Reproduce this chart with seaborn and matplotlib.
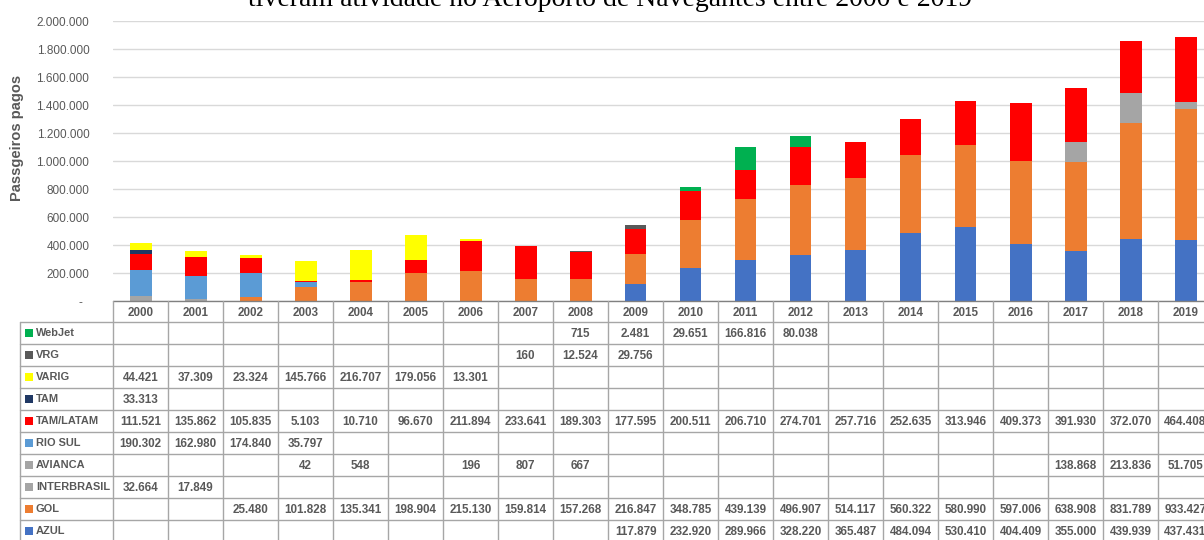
import matplotlib
matplotlib.use("Agg")
import matplotlib.pyplot as plt
import seaborn as sns
import pandas as pd
import numpy as np
from matplotlib.patches import Rectangle

# ---------------- data ----------------
years = [str(y) for y in range(2000, 2020)]
N = None
webjet = [N] * 8 + [715, 2481, 29651, 166816, 80038] + [N] * 7
vrg = [N] * 7 + [160, 12524, 29756] + [N] * 10
varig = [44421, 37309, 23324, 145766, 216707, 179056, 13301] + [N] * 13
tam = [33313] + [N] * 19
tam_latam = [111521, 135862, 105835, 5103, 10710, 96670, 211894, 233641, 189303, 177595,
             200511, 206710, 274701, 257716, 252635, 313946, 409373, 391930, 372070, 464408]
rio_sul = [190302, 162980, 174840, 35797] + [N] * 16
avianca = [N, N, N, 42, 548, N, 196, 807, 667] + [N] * 8 + [138868, 213836, 51705]
interbrasil = [32664, 17849] + [N] * 18
gol = [N, N, 25480, 101828, 135341, 198904, 215130, 159814, 157268, 216847,
       348785, 439139, 496907, 514117, 560322, 580990, 597006, 638908, 831789, 933427]
azul = [N] * 9 + [117879, 232920, 289966, 328220, 365487, 484094, 530410, 404409,
                  355000, 439939, 437431]

# table order (top to bottom); stacking is the reverse (bottom to top)
airlines = ["WebJet", "VRG", "VARIG", "TAM", "TAM/LATAM", "RIO SUL",
            "AVIANCA", "INTERBRASIL", "GOL", "AZUL"]
series = [webjet, vrg, varig, tam, tam_latam, rio_sul, avianca, interbrasil, gol, azul]
colors = ["#00B050", "#595959", "#FFFF00", "#203864", "#FF0000", "#5B9BD5",
          "#A5A5A5", "#A5A5A5", "#ED7D31", "#4472C4"]

title_text = "tiveram atividade no Aeroporto de Navegantes entre 2000 e 2019"
ylabel_text = "Passgeiros pagos"

# ---------------- figure ----------------
sns.set_style("white")
plt.rcParams["font.family"] = ["Liberation Sans", "DejaVu Sans"]
W, H = 1204, 540
fig = plt.figure(figsize=(W / 100, H / 100), dpi=100)

def px(x0, y0, x1, y1):
    # pixel box (top-left origin) -> figure fraction rect
    return [x0 / W, 1 - y1 / H, (x1 - x0) / W, (y1 - y0) / H]

ax_left, ax_right, ax_top, ax_bot = 113, 1213, 21, 301
ax = fig.add_axes(px(ax_left, ax_top, ax_right, ax_bot))

# cumulative stacking, drawn from the top layer down so lower layers overlap
stack_order = list(range(len(airlines)))[::-1]  # AZUL first (bottom)
vals = np.array([[0 if v is None else v for v in s] for s in series], dtype=float)
cum = np.zeros(len(years))
cums = {}
for i in stack_order:
    cum = cum + vals[i]
    cums[i] = cum.copy()
for z, i in enumerate(stack_order[::-1]):
    df = pd.DataFrame({"ano": years, "valor": cums[i]})
    sns.barplot(data=df, x="ano", y="valor", color=colors[i], saturation=1,
                width=0.4, linewidth=0, ax=ax, order=years, zorder=2 + z)

ax.set_xlim(-0.5, len(years) - 0.5)
ax.set_ylim(0, 2_000_000)
ax.set_yticks(np.arange(0, 2_000_001, 200_000))
ax.yaxis.set_major_formatter(matplotlib.ticker.FuncFormatter(
    lambda v, p: "-  " if v == 0 else f"{int(v):,}".replace(",", ".")))
ax.tick_params(axis="y", length=0, pad=17, labelsize=8.5, labelcolor="#595959")
ax.set_xticks([])
ax.set_xlabel("")
ax.set_ylabel("")
ax.yaxis.grid(True, color="#D9D9D9", linewidth=1)
ax.set_axisbelow(True)
for s in ax.spines.values():
    s.set_visible(False)

fig.text(17 / W, 1 - 138 / H, ylabel_text, rotation=90, ha="center", va="center",
         fontsize=10.5, fontweight="bold", color="#595959")
fig.text(610 / W, 1 - 6 / H, title_text, ha="center", va="baseline",
         fontsize=20, family=["Liberation Serif", "DejaVu Serif"], color="black")

# ---------------- data table ----------------
tab_left, tab_top, tab_bot = 20, 301, 543
hdr_h = 21
row_h = 22
tax = fig.add_axes(px(tab_left, tab_top, ax_right, tab_bot))
tax.set_xlim(tab_left, ax_right)
tax.set_ylim(tab_bot, tab_top)
tax.axis("off")
colw = (ax_right - ax_left) / len(years)
lc = "#A6A6A6"
txtc = "#595959"
fs = 8.4

rows_top = tab_top + hdr_h
# horizontal lines
tax.plot([ax_left, ax_right], [tab_top, tab_top], color="#808080", lw=1, clip_on=False)
for r in range(len(airlines) + 1):
    y = rows_top + r * row_h
    tax.plot([tab_left, ax_right], [y, y], color=lc, lw=1, clip_on=False)
# vertical lines
for c in range(len(years) + 1):
    x = ax_left + c * colw
    tax.plot([x, x], [tab_top, tab_bot + 5], color=lc, lw=1, clip_on=False)
tax.plot([tab_left, tab_left], [rows_top, tab_bot + 5], color=lc, lw=1, clip_on=False)

# header
for c, yr in enumerate(years):
    tax.text(ax_left + (c + 0.5) * colw, tab_top + hdr_h / 2 + 1, yr, ha="center",
             va="center", fontsize=fs, fontweight="bold", color=txtc, clip_on=False)
# rows
for r, (name, s, col) in enumerate(zip(airlines, series, colors)):
    yc = rows_top + (r + 0.5) * row_h
    tax.add_patch(Rectangle((25, yc - 4), 8, 8, color=col, lw=0, clip_on=False))
    tax.text(36, yc + 0.5, name, ha="left", va="center", fontsize=7.9,
             fontweight="bold", color=txtc, clip_on=False)
    for c, v in enumerate(s):
        if v is None:
            continue
        tax.text(ax_left + (c + 0.5) * colw, yc + 1, f"{v:,}".replace(",", "."),
                 ha="center", va="center", fontsize=fs, fontweight="bold",
                 color=txtc, clip_on=False)

fig.savefig("out.png", dpi=100)
